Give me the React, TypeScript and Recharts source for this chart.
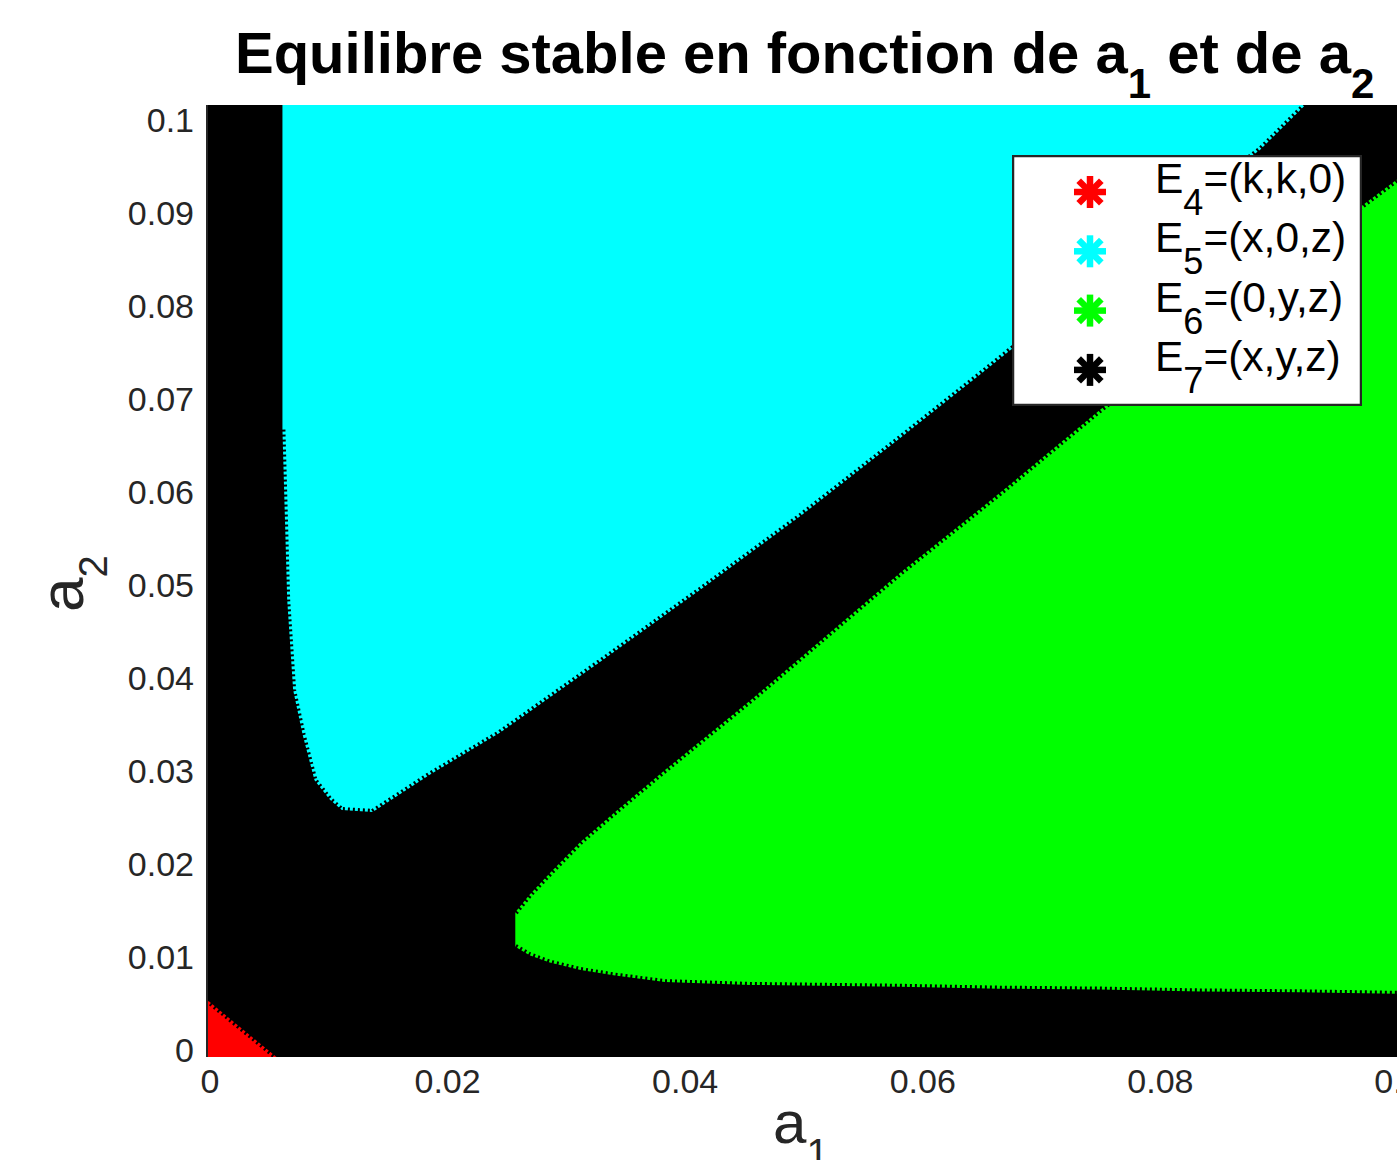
import React from "react";
import { ComposedChart, Area, Line, XAxis, YAxis, Legend } from "recharts";

const FONT = '"Liberation Sans", Arial, Helvetica, sans-serif';
const INK = "#262626";

// axis limits (grid runs half a step past the round values)
const A1_MIN = -0.00025;
const A1_MAX = 0.1016;
const A2_MIN = -0.00075;
const A2_MAX = 0.1016;

const a1Ticks = [0, 0.02, 0.04, 0.06, 0.08, 0.1];
const a2Ticks = [0, 0.01, 0.02, 0.03, 0.04, 0.05, 0.06, 0.07, 0.08, 0.09, 0.1];

// E7: stable everywhere the other equilibria are not
const e7A1 = [A1_MIN, A1_MAX];

// E4 corner near the origin
const e4A1 = [A1_MIN, 0.0056];
const e4A2High = [0.0054, A2_MIN];

// E5 zone: from its lower frontier up to the top of the grid
const e5A1 = [
  0.0061, 0.0065, 0.007, 0.0078, 0.0088, 0.0101, 0.0111, 0.0137, 0.0185, 0.0244,
  0.0328, 0.0413, 0.0497, 0.0581, 0.0648, 0.0716, 0.0792, 0.0884, 0.0922,
];
const e5A2Low = [
  0.0667, 0.0484, 0.0387, 0.0339, 0.029, 0.0269, 0.0258, 0.0256, 0.0296, 0.0341,
  0.0417, 0.0495, 0.0574, 0.0658, 0.0726, 0.0796, 0.088, 0.0968, 0.1016,
];

// E6 wedge
const e6A1 = [
  0.0257, 0.0269, 0.0286, 0.0312, 0.0341, 0.0383, 0.0455, 0.0581, 0.0665, 0.0749,
  0.0834, 0.0918, 0.0971, 0.1016,
];
const e6A2Low = [
  0.0111, 0.0102, 0.0094, 0.0086, 0.008, 0.0073, 0.007, 0.0068, 0.0066, 0.0065,
  0.0063, 0.0062, 0.0061, 0.006,
];
const e6A2High = [
  0.0148, 0.0167, 0.019, 0.0224, 0.0256, 0.0301, 0.0376, 0.0513, 0.0599, 0.0688,
  0.0772, 0.0856, 0.0909, 0.0952,
];

const legendNames = ["4", "5", "6", "7"];
const legendPoints = ["(k,k,0)", "(x,0,z)", "(0,y,z)", "(x,y,z)"];
const legendColors = ["#ff0000", "#00ffff", "#00ff00", "#000000"];

type Row = { a1: number; lo: number; hi: number; band: [number, number] };

function band(xs: number[], lo: number[], hi: number[]): Row[] {
  return xs.map((a1, i) => ({ a1, lo: lo[i], hi: hi[i], band: [lo[i], hi[i]] }));
}

const e7Data = band(e7A1, [A2_MIN, A2_MIN], [A2_MAX, A2_MAX]);
const e4Data = band(e4A1, [A2_MIN, A2_MIN], e4A2High);
const e5Data = band(e5A1, e5A2Low, e5A1.map(() => A2_MAX));
const e6Data = band(e6A1, e6A2Low, e6A2High);

function A1Tick({ x, y, payload }: any) {
  return (
    <text x={x} y={y + 36} textAnchor="middle" fontSize={34} fill={INK} fontFamily={FONT}>
      {String(payload.value)}
    </text>
  );
}

function A2Tick({ x, y, payload }: any) {
  return (
    <text x={x - 13} y={y + 12} textAnchor="end" fontSize={34} fill={INK} fontFamily={FONT}>
      {String(payload.value)}
    </text>
  );
}

function Asterisk({ cx, cy, color }: { cx: number; cy: number; color: string }) {
  const r = 16;
  const d = r * Math.SQRT1_2;
  return (
    <g stroke={color} strokeWidth={6.5}>
      <line x1={cx - r} y1={cy} x2={cx + r} y2={cy} />
      <line x1={cx} y1={cy - r} x2={cx} y2={cy + r} />
      <line x1={cx - d} y1={cy - d} x2={cx + d} y2={cy + d} />
      <line x1={cx - d} y1={cy + d} x2={cx + d} y2={cy - d} />
    </g>
  );
}

function EquilibriumLegend() {
  return (
    <svg width={350} height={251} style={{ display: "block" }}>
      <rect x={1} y={1} width={348} height={249} fill="#fff" stroke={INK} strokeWidth={2.5} />
      {legendNames.map((n, i) => {
        const cy = 37 + i * 59.3;
        return (
          <g key={n}>
            <Asterisk cx={78} cy={cy} color={legendColors[i]} />
            <text x={143} y={cy + 1} fontSize={42.5} fill="#000" fontFamily={FONT}>
              E
              <tspan dy={22} fontSize={36}>
                {n}
              </tspan>
              <tspan dy={-22}>={legendPoints[i]}</tspan>
            </text>
          </g>
        );
      })}
    </svg>
  );
}

// toothed black fringe along each frontier
const fringe = {
  stroke: "#000",
  strokeWidth: 6,
  strokeDasharray: "2 3",
  dot: false,
  activeDot: false,
  legendType: "none" as const,
  isAnimationActive: false,
  type: "linear" as const,
  zIndex: 450,
};

export default function App() {
  return (
    <div
      style={{
        position: "fixed",
        left: 0,
        top: 0,
        width: 1397,
        height: 1160,
        overflow: "hidden",
        background: "#fff",
      }}
    >
      <ComposedChart
        width={1417}
        height={1160}
        margin={{ top: 105, right: 0, bottom: 0, left: 0 }}
      >
        <XAxis
          type="number"
          dataKey="a1"
          domain={[A1_MIN, A1_MAX]}
          allowDataOverflow
          ticks={a1Ticks}
          tick={<A1Tick />}
          tickLine={false}
          tickSize={0}
          tickMargin={0}
          axisLine={false}
          height={103}
        />
        <YAxis
          type="number"
          domain={[A2_MIN, A2_MAX]}
          allowDataOverflow
          ticks={a2Ticks}
          tick={<A2Tick />}
          tickLine={false}
          tickSize={0}
          tickMargin={0}
          axisLine={{ stroke: INK, strokeWidth: 2 }}
          width={207}
        />

        <Area
          data={e7Data}
          dataKey="band"
          name="E7"
          type="linear"
          fill="#000"
          fillOpacity={1}
          stroke="none"
          isAnimationActive={false}
        />
        <Area
          data={e4Data}
          dataKey="band"
          name="E4"
          type="linear"
          fill="#ff0000"
          fillOpacity={1}
          stroke="none"
          isAnimationActive={false}
        />
        <Area
          data={e5Data}
          dataKey="band"
          name="E5"
          type="linear"
          fill="#00ffff"
          fillOpacity={1}
          stroke="none"
          isAnimationActive={false}
        />
        <Area
          data={e6Data}
          dataKey="band"
          name="E6"
          type="linear"
          fill="#00ff00"
          fillOpacity={1}
          stroke="none"
          isAnimationActive={false}
        />

        <Line data={e4Data} dataKey="hi" {...fringe} />
        <Line data={e5Data} dataKey="lo" {...fringe} />
        <Line data={e6Data} dataKey="lo" {...fringe} />
        <Line data={e6Data} dataKey="hi" {...fringe} />

        <Legend
          layout="vertical"
          align="center"
          verticalAlign="middle"
          content={<EquilibriumLegend />}
          wrapperStyle={{ left: 1012, top: 155, width: 350, height: 251, margin: 0 }}
        />
      </ComposedChart>

      <svg
        width={1397}
        height={1160}
        style={{ position: "absolute", left: 0, top: 0, pointerEvents: "none" }}
      >
        <text x={235} y={73} fontSize={58} fontWeight="bold" fill="#000" fontFamily={FONT}>
          Equilibre stable en fonction de a
          <tspan dy={25} fontSize={42}>
            1
          </tspan>
          <tspan dy={-25}> et de a</tspan>
          <tspan dy={25} fontSize={42}>
            2
          </tspan>
        </text>

        <text x={773} y={1143} fontSize={60} fill={INK} fontFamily={FONT}>
          a
          <tspan dy={24} fontSize={40}>
            1
          </tspan>
        </text>

        <text
          x={83}
          y={612}
          transform="rotate(-90 83 612)"
          fontSize={62}
          fill={INK}
          fontFamily={FONT}
        >
          a
          <tspan dy={24} fontSize={40}>
            2
          </tspan>
        </text>
      </svg>
    </div>
  );
}
